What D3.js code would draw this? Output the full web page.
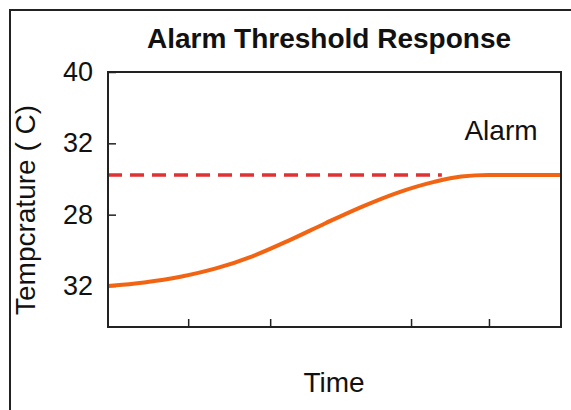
<!DOCTYPE html>
<html>
<head>
<meta charset="utf-8">
<script src="https://cdn.jsdelivr.net/npm/d3@7"></script>
<style>
  body { margin: 0; background: #fff; }
  svg text { font-family: "Liberation Sans", Arial, sans-serif; fill: #111; }
</style>
</head>
<body>
<svg id="chart"></svg>
<script>
'use strict'

const width  = 571,
      height = 410

// y ticks as printed on the chart (bottom to top)
const yTickValues = [0, 1, 2, 3]
const yTickLabels = ['32', '28', '32', '40']

// x tick positions along the time axis (0..100)
const xTickValues = [17.7, 35.8, 66.9, 84.1]

// response curve
const timeValues = [0, 8, 16, 24, 32, 40, 48, 56, 64, 72, 78, 84, 92, 100]
const tempValues = [0, 0.05, 0.13, 0.25, 0.42, 0.64, 0.88, 1.11, 1.31, 1.46, 1.535, 1.556, 1.556, 1.556]

// alarm threshold (dashed line)
const thresholdValue = 1.556
const thresholdRange = [0, 73.7]

const margin = { left: 108, right: 10, top: 72, bottom: 83 }

const svg = d3.select('#chart')
  .attr('width', width)
  .attr('height', height)

// outer frame, cut off by the picture edge
svg.append('rect')
  .attr('x', 10).attr('y', 10)
  .attr('width', 700).attr('height', 600)
  .attr('fill', 'none')
  .attr('stroke', '#222')
  .attr('stroke-width', 2)

const x = d3.scaleLinear()
  .domain([0, 100])
  .range([margin.left, width - margin.right])

const y = d3.scaleLinear()
  .domain([-0.575, 3])
  .range([height - margin.bottom, margin.top])

// y axis, ticks pointing inward
const yAxis = svg.append('g')
  .attr('transform', 'translate(' + margin.left + ',0)')
  .call(d3.axisLeft(y)
    .tickValues(yTickValues)
    .tickFormat((d, i) => yTickLabels[i])
    .tickSize(-8)
    .tickPadding(15))
yAxis.select('.domain').remove()
yAxis.selectAll('line').attr('stroke', '#222').attr('stroke-width', 1.5)
yAxis.selectAll('text').style('font-size', '27px').attr('fill', '#111')

// x axis, ticks only
const xAxis = svg.append('g')
  .attr('transform', 'translate(0,' + (height - margin.bottom) + ')')
  .call(d3.axisBottom(x)
    .tickValues(xTickValues)
    .tickFormat('')
    .tickSize(-8))
xAxis.select('.domain').remove()
xAxis.selectAll('line').attr('stroke', '#222').attr('stroke-width', 1.5)

// threshold dashed line
svg.append('line')
  .attr('x1', x(thresholdRange[0]))
  .attr('x2', x(thresholdRange[1]))
  .attr('y1', y(thresholdValue))
  .attr('y2', y(thresholdValue))
  .attr('stroke', '#e03232')
  .attr('stroke-width', 3.5)
  .attr('stroke-dasharray', '14,8')

// response curve
const line = d3.line()
  .x((d, i) => x(timeValues[i]))
  .y(d => y(d))
  .curve(d3.curveMonotoneX)

svg.append('path')
  .datum(tempValues)
  .attr('d', line)
  .attr('fill', 'none')
  .attr('stroke', '#f26412')
  .attr('stroke-width', 4)

// plot box
svg.append('rect')
  .attr('x', margin.left)
  .attr('y', margin.top)
  .attr('width', width - margin.right - margin.left)
  .attr('height', height - margin.bottom - margin.top)
  .attr('fill', 'none')
  .attr('stroke', '#222')
  .attr('stroke-width', 2)

// texts
svg.append('text')
  .attr('x', 329).attr('y', 48)
  .attr('text-anchor', 'middle')
  .style('font-size', '28px')
  .style('font-weight', 'bold')
  .text('Alarm Threshold Response')

svg.append('text')
  .attr('x', 501).attr('y', 140)
  .attr('text-anchor', 'middle')
  .style('font-size', '28px')
  .text('Alarm')

svg.append('text')
  .attr('x', 334).attr('y', 392)
  .attr('text-anchor', 'middle')
  .style('font-size', '28px')
  .text('Time')

svg.append('text')
  .attr('transform', 'translate(35,210) rotate(-90)')
  .attr('text-anchor', 'middle')
  .style('font-size', '28px')
  .text('Tempcrature ( C)')
</script>
</body>
</html>
